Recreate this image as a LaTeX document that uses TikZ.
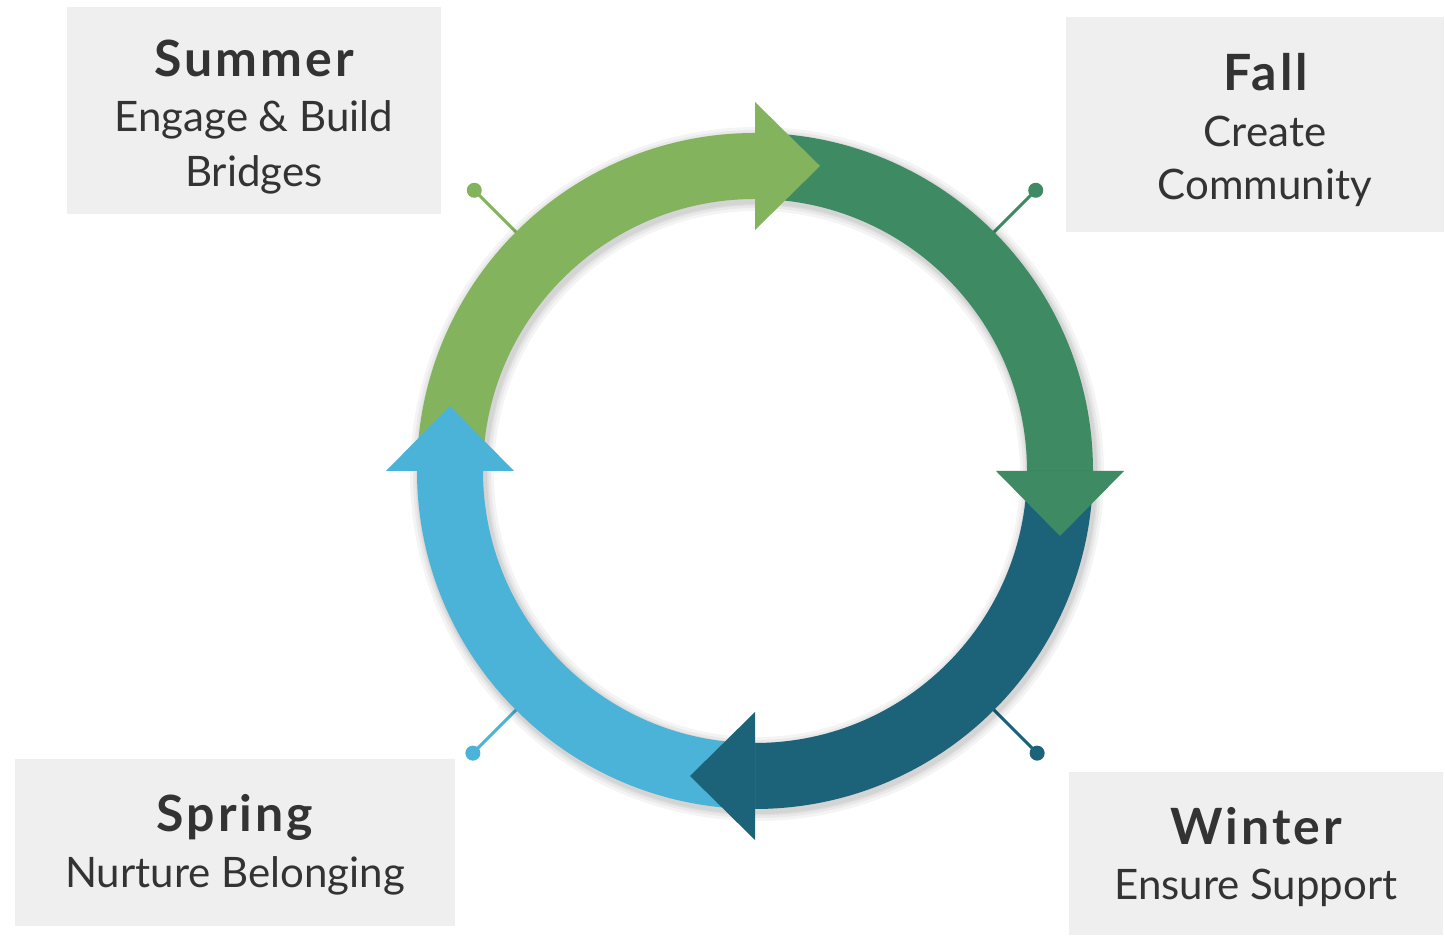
\documentclass[tikz,border=0pt]{standalone}
\usepackage{fontspec}
\setmainfont{Lato}
\newfontfamily\ttlfont[LetterSpace=6]{Lato}
\definecolor{sumc}{HTML}{84B35E}
\definecolor{fallc}{HTML}{3E8B63}
\definecolor{winc}{HTML}{1C6379}
\definecolor{sprc}{HTML}{4BB3D7}
\definecolor{boxc}{HTML}{EFEFEF}
\definecolor{txt}{HTML}{333333}
\tikzset{
  seasonbox/.style={fill=boxc},
  ttl/.style={font=\ttlfont\bfseries\fontsize{50}{58}\selectfont, text=txt, anchor=base, inner sep=0pt},
  bdy/.style={font=\fontsize{42}{50}\selectfont, text=txt, anchor=base, inner sep=0pt},
  pin/.style={line width=3pt},
  shade/.style={black, opacity=0.045}
}
\begin{document}
\begin{tikzpicture}[x=1pt,y=1pt]
\useasboundingbox (0,0) rectangle (1445,936);
\fill[white] (0,0) rectangle (1445,936);
\coordinate (C) at (755,465);

% boxes
\fill[seasonbox] (67,722) rectangle (441,929);
\fill[seasonbox] (1066,704) rectangle (1444,919);
\fill[seasonbox] (15,10) rectangle (455,177);
\fill[seasonbox] (1069,1) rectangle (1443,164);

% texts
\node[ttl] (sT) at (254,859) {Summer};
\node[bdy] (sB1) at (254,804) {Engage \& Build};
\node[bdy] (sB2) at (254,749) {Bridges};
\node[ttl] (fT) at (1266,845) {Fall};
\node[bdy] (fB1) at (1265,789) {Create};
\node[bdy] (fB2) at (1265,736) {Community};
\node[ttl] (wT) at (1256,91) {Winter};
\node[bdy] (wB) at (1256,36) {Ensure Support};
\node[ttl] (pT) at (235,104) {Spring};
\node[bdy] (pB) at (235,48) {Nurture Belonging};

% pin coordinates
\coordinate (dS) at ([shift={(135:397)}]C);
\coordinate (aS) at ([shift={(135:330)}]C);
\coordinate (dF) at ([shift={(45:397)}]C);
\coordinate (aF) at ([shift={(45:330)}]C);
\coordinate (dW) at ([shift={(-45:399)}]C);
\coordinate (aW) at ([shift={(-45:330)}]C);
\coordinate (dP) at ([shift={(-135:399)}]C);
\coordinate (aP) at ([shift={(-135:330)}]C);

\draw[pin, sumc] (dS) -- (aS); \fill[sumc] (dS) circle (7.5);
\draw[pin, fallc] (dF) -- (aF); \fill[fallc] (dF) circle (7.5);
\draw[pin, winc] (dW) -- (aW); \fill[winc] (dW) circle (7.5);
\draw[pin, sprc] (dP) -- (aP); \fill[sprc] (dP) circle (7.5);

% soft shadow
\foreach \w in {84,78,73,70} {
  \draw[shade, line width=\w pt] ([shift={(2,-3)}]C) circle (305);
}

% bands
\fill[sumc] ([shift={(180:338)}]C) arc[start angle=180,end angle=90,radius=338]
  -- ([shift={(90:272)}]C) arc[start angle=90,end angle=180,radius=272] -- cycle;
\fill[fallc] ([shift={(90:338)}]C) arc[start angle=90,end angle=0,radius=338]
  -- ([shift={(0:272)}]C) arc[start angle=0,end angle=90,radius=272] -- cycle;
\fill[winc] ([shift={(0:338)}]C) arc[start angle=0,end angle=-90,radius=338]
  -- ([shift={(-90:272)}]C) arc[start angle=-90,end angle=0,radius=272] -- cycle;
\fill[sprc] ([shift={(-90:338)}]C) arc[start angle=-90,end angle=-180,radius=338]
  -- ([shift={(-180:272)}]C) arc[start angle=-180,end angle=-90,radius=272] -- cycle;

% heads
\fill[sumc] ([shift={(0,369)}]C) -- ([shift={(65,305)}]C) -- ([shift={(0,241)}]C) -- cycle;
\fill[fallc] ([shift={(241,0)}]C) -- ([shift={(305,-65)}]C) -- ([shift={(369,0)}]C) -- cycle;
\fill[winc] ([shift={(0,-241)}]C) -- ([shift={(-65,-305)}]C) -- ([shift={(0,-369)}]C) -- cycle;
\fill[sprc] ([shift={(-369,0)}]C) -- ([shift={(-305,65)}]C) -- ([shift={(-241,0)}]C) -- cycle;
\end{tikzpicture}
\end{document}
